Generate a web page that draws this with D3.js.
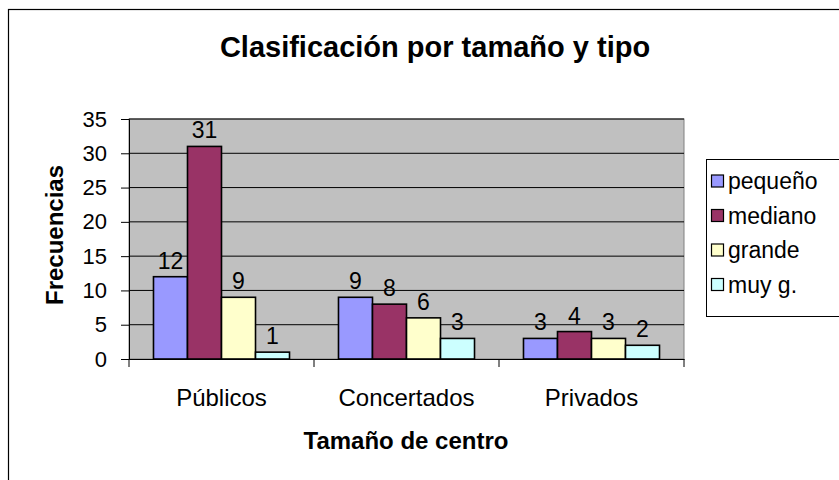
<!DOCTYPE html>
<html><head><meta charset="utf-8">
<script src="https://cdn.jsdelivr.net/npm/d3@7"></script>
<style>body{margin:0;background:#fff}svg{display:block;font-family:Arial,"Liberation Sans",sans-serif}</style>
</head><body>
<svg id="c" width="839" height="480"></svg>
<script>
const categories = ["Públicos", "Concertados", "Privados"];
const seriesNames = ["pequeño", "mediano", "grande", "muy g."];
const pequeno = [12, 9, 3];
const mediano = [31, 8, 4];
const grande = [9, 6, 3];
const muyg = [1, 3, 2];
const yTicks = [0, 5, 10, 15, 20, 25, 30, 35];
const colors = ["#9999FF", "#993366", "#FFFFCC", "#CCFFFF"];
const series = [pequeno, mediano, grande, muyg];

const FF = "Arial, Liberation Sans, sans-serif";
const svg = d3.select("#c");
const M = {l: 129, r: 684, t: 119, b: 359};

// outer border
svg.append("rect").attr("x", 8.5).attr("y", 9.5).attr("width", 840).attr("height", 480)
  .attr("fill", "#fff").attr("stroke", "#000").attr("stroke-width", 1.2);

const x0 = d3.scaleBand().domain(categories).range([M.l, M.r]).paddingInner(0).paddingOuter(0);
const x1 = d3.scaleBand().domain(seriesNames).range([0, x0.bandwidth()]).paddingOuter(0.72).paddingInner(0);
const y = d3.scaleLinear().domain([0, 35]).range([M.b, M.t]);

// plot background
svg.append("rect").attr("x", M.l).attr("y", M.t).attr("width", M.r - M.l).attr("height", M.b - M.t)
  .attr("fill", "#C0C0C0").attr("stroke", "#808080").attr("stroke-width", 1);

// gridlines
svg.append("g").selectAll("line").data(yTicks.filter(d => d > 0)).join("line")
  .attr("x1", M.l).attr("x2", M.r).attr("y1", d => y(d)).attr("y2", d => y(d))
  .attr("stroke", "#000").attr("stroke-width", 1);

// y axis
const ya = svg.append("g").attr("transform", `translate(${M.l},0)`)
  .call(d3.axisLeft(y).tickValues(yTicks).tickSize(8).tickPadding(14));
ya.select(".domain").attr("stroke", "#000");
ya.selectAll("text").attr("font-size", 22).attr("fill", "#000").attr("font-family", FF);

// x axis
const xa = svg.append("g").attr("transform", `translate(0,${M.b})`)
  .call(d3.axisBottom(x0).tickSize(0).tickPadding(30));
xa.select(".domain").attr("stroke", "#000");
xa.selectAll("text").attr("font-size", 24).attr("fill", "#000").attr("font-family", FF);
const boundaries = [M.l].concat(categories.map(c => x0(c) + x0.bandwidth()));
svg.append("g").selectAll("line").data(boundaries).join("line")
  .attr("x1", d => d).attr("x2", d => d).attr("y1", M.b).attr("y2", M.b + 8)
  .attr("stroke", "#000");

// bars
const g = svg.append("g");
categories.forEach((c, ci) => {
  series.forEach((s, si) => {
    const v = s[ci];
    const bx = x0(c) + x1(seriesNames[si]);
    g.append("rect").attr("x", bx).attr("y", y(v)).attr("width", x1.bandwidth()).attr("height", y(0) - y(v))
      .attr("fill", colors[si]).attr("stroke", "#000").attr("stroke-width", 1.6);
    g.append("text").attr("x", bx + x1.bandwidth() / 2).attr("y", y(v) - 8)
      .attr("text-anchor", "middle").attr("font-size", 23).text(v);
  });
});

// title
svg.append("text").attr("x", 435).attr("y", 57).attr("text-anchor", "middle")
  .attr("font-size", 29).attr("font-weight", "bold").text("Clasificación por tamaño y tipo");
// axis titles
svg.append("text").attr("transform", "translate(63,235) rotate(-90)").attr("text-anchor", "middle")
  .attr("font-size", 24).attr("font-weight", "bold").text("Frecuencias");
svg.append("text").attr("x", 406).attr("y", 449).attr("text-anchor", "middle")
  .attr("font-size", 24).attr("font-weight", "bold").text("Tamaño de centro");

// legend
const lg = svg.append("g");
lg.append("rect").attr("x", 706.5).attr("y", 159.5).attr("width", 140).attr("height", 157)
  .attr("fill", "#fff").attr("stroke", "#000").attr("stroke-width", 1);
seriesNames.forEach((n, i) => {
  const yy = 181 + i * 34.5;
  lg.append("rect").attr("x", 711.5).attr("y", yy - 6).attr("width", 12).attr("height", 12)
    .attr("fill", colors[i]).attr("stroke", "#000").attr("stroke-width", 1.2);
  lg.append("text").attr("x", 728).attr("y", yy + 8).attr("font-size", 23).text(n);
});
</script>
</body></html>
